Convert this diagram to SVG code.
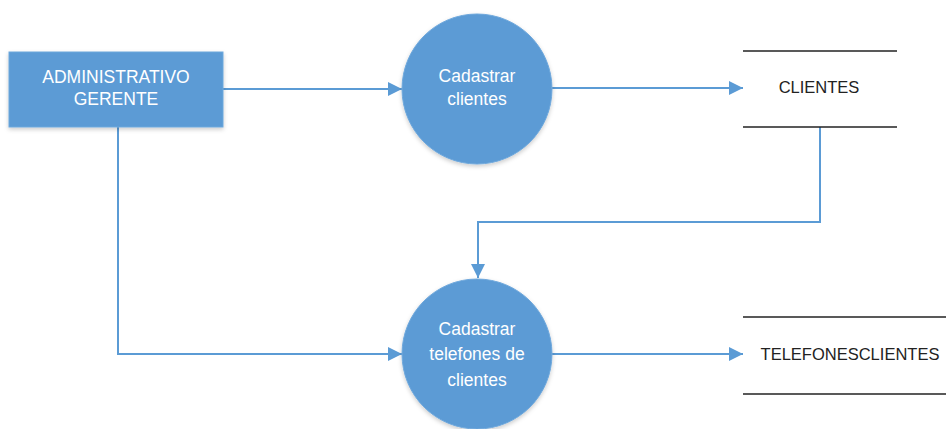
<svg xmlns="http://www.w3.org/2000/svg" width="946" height="429" viewBox="0 0 946 429">
<defs>
<marker id="ah" viewBox="0 0 14 14" refX="14" refY="7" markerWidth="14" markerHeight="14" markerUnits="userSpaceOnUse" orient="auto">
<path d="M0,0 L14,7 L0,14 Z" fill="#5B9BD5"/>
</marker>
<filter id="sh" x="-20%" y="-20%" width="140%" height="140%">
<feDropShadow dx="0" dy="2" stdDeviation="2" flood-color="#000" flood-opacity="0.2"/>
</filter>
</defs>
<style>
.shape{fill:#5B9BD5;stroke:#6FA8DC;stroke-width:1;filter:url(#sh)}
.wt{fill:#fff;font-family:"Liberation Sans",Arial,sans-serif;font-size:17.5px;text-anchor:middle}
.bt{fill:#222;font-family:"Liberation Sans",Arial,sans-serif;font-size:16.5px;text-anchor:middle}
.conn{fill:none;stroke:#5B9BD5;stroke-width:2;marker-end:url(#ah)}
.store{stroke:#222;stroke-width:1.5}
</style>
<rect width="946" height="429" fill="#fff"/>
<g id="connectors">
<path class="conn" d="M223,89 L402,89"/>
<path class="conn" d="M552,88 L743,88"/>
<path class="conn" d="M820,127 L820,222 L478,222 L478,278"/>
<path class="conn" d="M118,127 L118,354 L402,354"/>
<path class="conn" d="M552,354 L743,354"/>
</g>
<g id="admin">
<rect class="shape" x="9" y="52" width="214" height="75"/>
<text class="wt" x="116" y="83">ADMINISTRATIVO</text>
<text class="wt" x="116" y="105">GERENTE</text>
</g>
<g id="p1">
<circle class="shape" cx="477" cy="89" r="75"/>
<text class="wt" x="477" y="82">Cadastrar</text>
<text class="wt" x="477" y="105">clientes</text>
</g>
<g id="p2">
<circle class="shape" cx="477" cy="354" r="75"/>
<text class="wt" x="477" y="335">Cadastrar</text>
<text class="wt" x="477" y="360">telefones de</text>
<text class="wt" x="477" y="386">clientes</text>
</g>
<g id="clientes">
<line class="store" x1="743" y1="51" x2="897" y2="51"/>
<line class="store" x1="743" y1="127" x2="897" y2="127"/>
<text class="bt" x="819" y="93">CLIENTES</text>
</g>
<g id="telefonesclientes">
<line class="store" x1="743" y1="317" x2="946" y2="317"/>
<line class="store" x1="743" y1="394" x2="946" y2="394"/>
<text class="bt" x="850" y="360">TELEFONESCLIENTES</text>
</g>
</svg>
